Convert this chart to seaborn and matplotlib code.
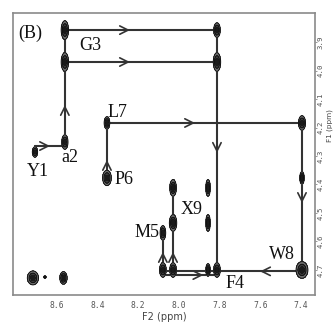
import numpy as np
import pandas as pd
import matplotlib
matplotlib.use("Agg")
import matplotlib.pyplot as plt
import seaborn as sns

# ---- data (ppm) ----
peak_f2 = [8.561, 8.561, 8.561, 8.708, 7.813, 7.813, 8.354, 8.354, 7.395, 7.395, 7.395,
           8.079, 8.079, 8.029, 8.029, 8.029, 7.857, 7.857, 7.857, 7.813, 8.718, 8.568, 8.659]
peak_f1 = [3.858, 3.970, 4.251, 4.286, 3.858, 3.970, 4.184, 4.377, 4.184, 4.377, 4.700,
           4.570, 4.700, 4.412, 4.535, 4.700, 4.412, 4.535, 4.700, 4.700, 4.728, 4.728, 4.725]
peak_wpx = [2.1, 2.1, 1.8, 1.5, 1.9, 2.1, 1.6, 2.5, 2.0, 1.3, 3.4,
            1.6, 1.9, 1.9, 2.1, 1.9, 1.3, 1.3, 1.3, 1.9, 3.2, 2.1, 0.7]
peak_hpx = [5.4, 5.4, 4.2, 3.0, 4.2, 5.4, 3.6, 4.4, 4.2, 3.6, 4.8,
            4.2, 4.2, 4.8, 4.8, 4.2, 4.8, 4.8, 3.6, 4.2, 4.0, 3.6, 0.7]

# connectivity walk segments: (f2 start, f1 start, f2 end, f1 end)
seg_f2a = [8.561, 8.561, 8.561, 8.708, 8.708, 8.354, 8.354, 7.395, 7.813, 7.395, 8.079, 8.079, 8.029]
seg_f1a = [3.858, 3.970, 4.251, 4.286, 4.265, 4.377, 4.184, 4.184, 3.858, 4.705, 4.718, 4.705, 4.705]
seg_f2b = [7.813, 7.813, 8.561, 8.708, 8.561, 8.354, 7.395, 7.395, 7.813, 8.079, 7.813, 8.079, 8.029]
seg_f1b = [3.858, 3.970, 3.858, 4.265, 4.265, 4.184, 4.184, 4.705, 4.705, 4.705, 4.718, 4.570, 4.412]

# arrowheads: position and direction
arr_f2 = [8.241, 8.241, 8.561, 8.634, 8.354, 7.921, 7.395, 7.813, 7.601, 8.079, 8.029, 7.880]
arr_f1 = [3.858, 3.970, 4.121, 4.265, 4.314, 4.184, 4.465, 4.289, 4.705, 4.637, 4.637, 4.718]
arr_dir = ["right", "right", "up", "right", "up", "right", "down", "down", "left", "up", "up", "right"]

labels = ["(B)", "G3", "a2", "Y1", "L7", "P6", "X9", "M5", "W8", "F4"]
lab_f2 = [8.733, 8.438, 8.536, 8.693, 8.300, 8.272, 7.936, 8.157, 7.493, 7.724]
lab_f1 = [3.868, 3.911, 4.307, 4.356, 4.149, 4.384, 4.489, 4.570, 4.647, 4.746]

xticks = [8.6, 8.4, 8.2, 8.0, 7.8, 7.6, 7.4]
yticks = [3.9, 4.0, 4.1, 4.2, 4.3, 4.4, 4.5, 4.6, 4.7]

# ---- figure ----
sns.set_style("white")
fig = plt.figure(figsize=(3.35, 3.24), dpi=100)
ax = fig.add_axes([13 / 335, 1 - 295 / 324, (315 - 13) / 335, (295 - 13) / 324])

XPX = 203.3  # px per ppm (F2)
YPX = 285.0  # px per ppm (F1)
xlim = (8.816, 7.331)
ylim = (4.788, 3.798)

gx = np.linspace(7.331, 8.816, 900)
gy = np.linspace(3.798, 4.788, 700)
GX, GY = np.meshgrid(gx, gy)
Z = np.zeros_like(GX)
for x0, y0, w, h in zip(peak_f2, peak_f1, peak_wpx, peak_hpx):
    sx, sy = w / XPX, h / YPX
    Z += np.exp(-0.5 * (((GX - x0) / sx) ** 2 + ((GY - y0) / sy) ** 2))

ax.contourf(GX, GY, Z, levels=[0.22, 0.5, 0.8, 50],
            colors=["#6e6e6e", "#3a3a3a", "#1a1a1a"], zorder=3)
ax.contour(GX, GY, Z, levels=[0.22, 0.5], colors="#111111", linewidths=0.7, zorder=4)

# connection lines
rows = []
for i, (a, b, c, d) in enumerate(zip(seg_f2a, seg_f1a, seg_f2b, seg_f1b)):
    rows.append({"seg": i, "f2": a, "f1": b})
    rows.append({"seg": i, "f2": c, "f1": d})
seg_df = pd.DataFrame(rows)
sns.lineplot(data=seg_df, x="f2", y="f1", units="seg", estimator=None, sort=False,
             color="#333333", linewidth=1.5, ax=ax, zorder=2, legend=False)

# arrowheads (x axis inverted: "right" means toward smaller ppm)
back = {"right": (0.03, 0.0), "left": (-0.03, 0.0), "up": (0.0, 0.03), "down": (0.0, -0.03)}
for x0, y0, d in zip(arr_f2, arr_f1, arr_dir):
    bx, by = back[d]
    ax.annotate("", xy=(x0, y0), xytext=(x0 + bx, y0 + by),
                arrowprops=dict(arrowstyle="->,head_length=0.6,head_width=0.3",
                                color="#333333", lw=1.2, shrinkA=0, shrinkB=0),
                zorder=5)

# labels
for t, x0, y0 in zip(labels, lab_f2, lab_f1):
    ax.text(x0, y0, t, fontsize=13, family="Liberation Serif", color="#111111",
            ha="center", va="center", zorder=6)

ax.set_xlim(*xlim)
ax.set_ylim(*ylim)
ax.set_xticks(xticks)
ax.set_xticklabels([f"{v:.1f}" for v in xticks], family="DejaVu Sans Mono",
                   fontsize=5.8, color="#555555")
ax.yaxis.tick_right()
ax.set_yticks(yticks)
ax.set_yticklabels([f"{v:.1f}" for v in yticks], family="DejaVu Sans Mono",
                   fontsize=5.3, color="#555555", rotation=90, va="center")
ax.tick_params(axis="x", length=3, width=0.6, color="#888888", pad=1.5)
ax.tick_params(axis="y", length=1.5, width=0.6, color="#888888", pad=0.5)
ax.set_xlabel("F2 (ppm)", family="DejaVu Sans", fontsize=7, color="#444444", labelpad=1)
ax.yaxis.set_label_position("right")
ax.set_ylabel("F1 (ppm)", family="DejaVu Sans", fontsize=5.2, color="#444444",
              rotation=90)
ax.yaxis.set_label_coords(1.039, 0.60)
for s in ax.spines.values():
    s.set_color("#8a8a8a")
    s.set_linewidth(1.2)

fig.savefig("out.png", dpi=100)
